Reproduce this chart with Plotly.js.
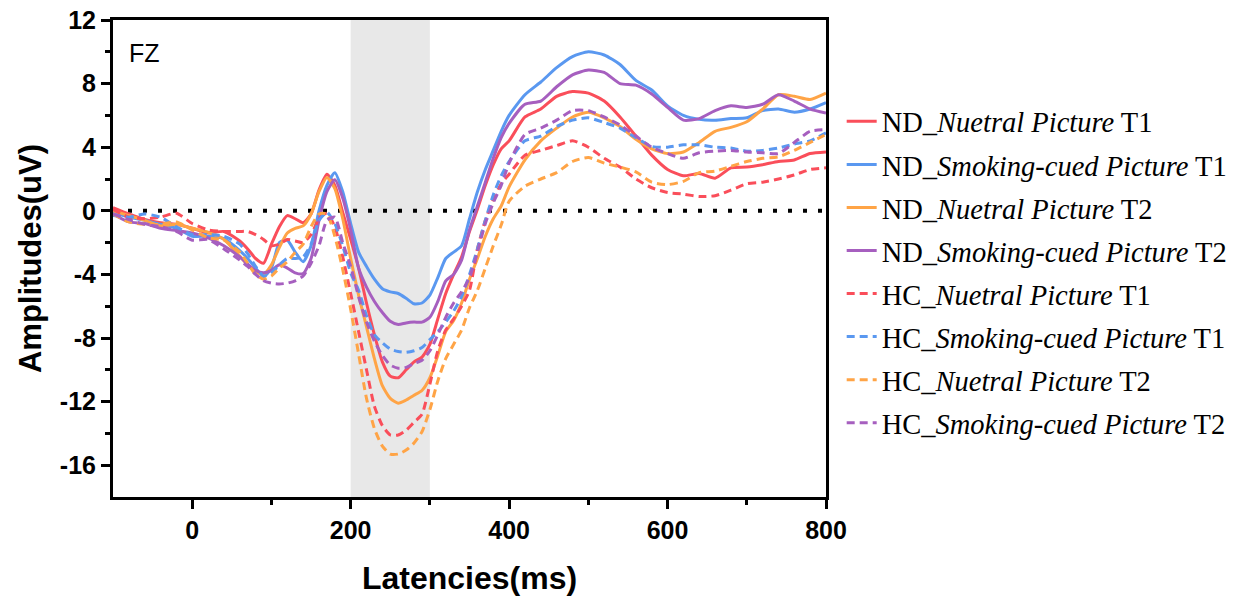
<!DOCTYPE html>
<html>
<head>
<meta charset="utf-8">
<script src="https://cdn.plot.ly/plotly-3.0.1.min.js"></script>
<style>html,body{margin:0;padding:0;background:#fff;}#chart{width:1233px;height:600px;}</style>
</head>
<body>
<div id="chart"></div>
<script>
const times = [-100,-80,-60,-40,-20,0,20,40,60,70,80,90,100,110,120,130,140,150,160,170,180,190,200,210,220,230,240,250,260,270,280,290,300,310,320,330,340,350,360,370,380,390,400,420,440,460,480,500,520,540,560,580,600,620,640,660,680,700,720,740,760,780,800];

const ndNeutralT1 = [0.2,-0.2,-0.55,-0.75,-0.85,-1.1,-1.4,-1.3,-1.9,-2.4,-3.0,-3.3,-2.1,-1.0,-0.3,-0.5,-0.75,-0.2,1.3,2.3,1.6,-0.1,-1.8,-3.6,-5.8,-7.8,-9.5,-10.4,-10.5,-10.0,-9.5,-9.2,-8.4,-6.8,-5.2,-4.0,-2.9,-1.3,0.1,1.6,2.9,3.9,4.4,5.9,6.4,7.2,7.5,7.4,6.9,5.9,4.7,3.5,2.6,2.2,2.35,2.05,2.7,2.75,2.9,3.1,3.2,3.6,3.7];
const ndSmokingT1 = [-0.1,-0.4,-0.6,-0.85,-1.1,-1.6,-1.6,-1.75,-2.5,-3.0,-3.6,-4.15,-3.6,-2.0,-1.85,-2.6,-3.2,-2.2,0.0,1.6,2.4,1.2,-0.8,-2.6,-3.5,-4.3,-4.9,-5.1,-5.2,-5.5,-5.85,-5.8,-5.3,-4.2,-3.0,-2.6,-2.2,-0.5,1.2,2.6,3.8,5.0,6.0,7.3,8.1,9.0,9.7,10.0,9.8,9.2,8.2,7.6,6.6,6.0,5.75,5.7,5.8,5.85,6.3,6.4,6.2,6.4,6.8];
const ndNeutralT2 = [0.0,-0.3,-0.6,-0.95,-0.85,-1.1,-1.35,-1.8,-2.85,-3.4,-3.85,-4.0,-3.4,-2.3,-1.4,-1.1,-0.95,-0.2,1.2,2.1,1.4,-0.5,-3.0,-5.3,-7.3,-9.3,-11.0,-11.8,-12.1,-11.9,-11.6,-11.3,-10.5,-9.1,-7.6,-6.9,-5.8,-4.3,-3.0,-1.6,-0.5,0.3,1.5,3.2,4.4,5.2,5.9,6.2,5.85,5.3,4.5,3.9,3.6,3.7,4.3,5.0,5.25,5.6,6.4,7.3,7.2,7.0,7.4];
const ndSmokingT2 = [-0.2,-0.7,-0.8,-1.1,-1.25,-1.4,-1.7,-2.2,-2.9,-3.35,-3.75,-3.9,-3.75,-3.4,-3.6,-3.9,-3.95,-3.0,-0.6,1.2,1.95,0.8,-1.2,-3.6,-4.8,-5.7,-6.4,-6.95,-7.15,-7.05,-7.0,-7.0,-6.7,-5.7,-4.4,-4.0,-3.1,-1.2,0.3,1.8,3.3,4.6,5.5,6.7,6.9,7.8,8.55,8.85,8.7,8.0,7.9,7.35,6.5,5.7,5.8,6.3,6.6,6.5,6.7,7.3,6.9,6.4,6.15];
const hcNeutralT1 = [0.1,-0.4,-0.5,-0.4,-0.15,-0.8,-1.2,-1.3,-1.3,-1.3,-1.5,-1.8,-2.2,-2.1,-1.8,-1.9,-2.0,-1.5,-0.5,-0.15,-1.0,-2.9,-5.2,-7.6,-10.0,-12.3,-13.5,-14.1,-14.1,-13.8,-13.3,-12.8,-10.9,-8.8,-7.5,-6.8,-6.0,-5.0,-2.4,-0.6,0.7,1.7,2.3,3.5,3.8,4.1,4.4,4.0,3.3,2.75,2.0,1.45,1.15,1.05,0.9,0.95,1.3,1.7,1.8,2.0,2.25,2.6,2.7];
const hcSmokingT1 = [-0.3,-0.4,-0.2,-0.4,-1.0,-1.5,-1.5,-1.6,-2.1,-2.7,-3.5,-4.1,-3.9,-3.4,-3.0,-3.0,-2.9,-2.1,-0.6,-0.1,-0.8,-2.2,-3.9,-5.0,-6.6,-7.8,-8.3,-8.7,-8.85,-8.9,-8.8,-8.6,-8.1,-7.6,-7.0,-6.3,-5.4,-4.0,-2.4,-0.6,1.0,2.2,3.1,4.4,4.7,5.3,5.7,5.85,5.55,5.2,4.6,4.05,4.0,4.15,4.15,4.0,3.95,3.75,3.8,3.95,4.2,4.4,4.9];
const hcNeutralT2 = [-0.2,-0.7,-0.85,-0.85,-0.7,-1.2,-1.7,-1.85,-2.6,-3.3,-4.0,-4.3,-4.1,-3.6,-3.2,-2.6,-2.1,-1.0,-0.2,-0.2,-1.6,-3.7,-6.2,-9.0,-11.8,-13.7,-14.8,-15.3,-15.3,-15.05,-14.6,-13.9,-12.5,-10.7,-9.3,-8.4,-7.5,-6.1,-5.0,-3.6,-2.2,-0.9,0.6,1.55,2.0,2.4,3.1,3.35,3.0,2.75,2.45,1.8,1.65,1.85,2.4,2.5,2.8,3.1,3.3,3.4,3.8,4.3,4.8];
const hcSmokingT2 = [-0.2,-0.55,-0.85,-1.0,-1.3,-1.85,-1.8,-2.4,-3.1,-3.5,-4.0,-4.4,-4.55,-4.6,-4.55,-4.4,-4.1,-3.3,-2.2,-0.6,-0.4,-2.0,-3.5,-5.4,-7.0,-8.2,-9.1,-9.7,-9.9,-9.85,-9.6,-9.4,-8.8,-7.8,-6.7,-5.8,-5.1,-4.2,-2.6,-0.8,0.5,1.6,3.0,4.8,5.2,5.7,6.3,6.3,5.9,5.4,4.7,4.0,3.6,3.3,3.65,3.75,3.8,3.7,3.65,3.6,4.3,5.0,5.1];

const seriesNames = [
  "ND_<i>Nuetral Picture</i> T1",
  "ND_<i>Smoking-cued Picture</i> T1",
  "ND_<i>Nuetral Picture</i> T2",
  "ND_<i>Smoking-cued Picture</i> T2",
  "HC_<i>Nuetral Picture</i> T1",
  "HC_<i>Smoking-cued Picture</i> T1",
  "HC_<i>Nuetral Picture</i> T2",
  "HC_<i>Smoking-cued Picture</i> T2"
];
const seriesValues = [ndNeutralT1, ndSmokingT1, ndNeutralT2, ndSmokingT2, hcNeutralT1, hcSmokingT1, hcNeutralT2, hcSmokingT2];
const seriesColors = ["#FA4E5A", "#5A98F0", "#FFA446", "#A65FBF", "#FA4E5A", "#5A98F0", "#FFA446", "#A65FBF"];
const seriesDash = ["solid","solid","solid","solid","8px,5px","8px,5px","8px,5px","8px,5px"];

const xTickVals = [0, 200, 400, 600, 800];
const xTickText = ["0", "200", "400", "600", "800"];
const xMinorVals = [100, 300, 500, 700];
const yTickVals = [-16, -12, -8, -4, 0, 4, 8, 12];
const yTickText = ["-16", "-12", "-8", "-4", "0", "4", "8", "12"];
const yMinorVals = [-14, -10, -6, -2, 2, 6, 10];

const shadeWindow = [200, 300];
const xRange = [-100, 800];
const yRange = [-18, 12];

const traces = seriesValues.map((vals, i) => ({
  type: "scatter",
  mode: "lines",
  x: times,
  y: vals,
  name: seriesNames[i],
  legendgroup: "g" + i,
  line: {color: seriesColors[i], width: 3, dash: seriesDash[i], shape: "spline", smoothing: 0.6}
}));

const axisFont = {family: "Liberation Sans, Arial, sans-serif", size: 25, color: "#000", weight: "bold"};
const titleFont = {family: "Liberation Sans, Arial, sans-serif", size: 32, color: "#000", weight: "bold"};

const layout = {
  width: 1233,
  height: 600,
  paper_bgcolor: "#fff",
  plot_bgcolor: "#fff",
  margin: {l: 113, r: 407, t: 20, b: 103, autoexpand: false},
  showlegend: true,
  legend: {
    x: 1.022, xanchor: "left", y: 0.84, yanchor: "top",
    font: {family: "Liberation Serif, Times New Roman, serif", size: 28.5, color: "#000"},
    tracegroupgap: 3,
    itemwidth: 30,
    bgcolor: "rgba(0,0,0,0)"
  },
  xaxis: {
    range: xRange,
    showgrid: false, zeroline: false,
    showline: true, linecolor: "#000", linewidth: 3, mirror: true,
    ticks: "outside", ticklen: 9, tickwidth: 3, tickcolor: "#000",
    tickmode: "array", tickvals: xTickVals, ticktext: xTickText,
    minor: {ticks: "outside", ticklen: 5, tickwidth: 3, tickcolor: "#000", tickmode: "array", tickvals: xMinorVals, showgrid: false},
    tickfont: axisFont,
    title: {text: "Latencies(ms)", font: titleFont, standoff: 24}
  },
  yaxis: {
    range: yRange,
    showgrid: false, zeroline: false,
    showline: true, linecolor: "#000", linewidth: 3, mirror: true,
    ticks: "outside", ticklen: 9, tickwidth: 3, tickcolor: "#000",
    tickmode: "array", tickvals: yTickVals, ticktext: yTickText,
    minor: {ticks: "outside", ticklen: 5, tickwidth: 3, tickcolor: "#000", tickmode: "array", tickvals: yMinorVals, showgrid: false},
    tickfont: axisFont,
    title: {text: "Amplitudes(uV)", font: {family: titleFont.family, size: 31, color: "#000", weight: "bold"}, standoff: 10}
  },
  shapes: [
    {type: "line", xref: "x", yref: "y", x0: xRange[0], x1: xRange[1], y0: 0, y1: 0, layer: "below",
     line: {color: "#000", width: 4, dash: "4px,11px"}},
    {type: "rect", xref: "x", yref: "paper", x0: shadeWindow[0], x1: shadeWindow[1], y0: 0, y1: 1, layer: "below",
     fillcolor: "#d9d9d9", opacity: 0.6, line: {width: 0}}
  ],
  annotations: [
    {text: "FZ", xref: "paper", yref: "paper", x: 0.02, y: 0.965, xanchor: "left", yanchor: "top", showarrow: false,
     font: {family: "Liberation Sans, Arial, sans-serif", size: 25, color: "#000"}}
  ]
};

Plotly.newPlot("chart", traces, layout, {displayModeBar: false, staticPlot: true});
</script>
</body>
</html>
